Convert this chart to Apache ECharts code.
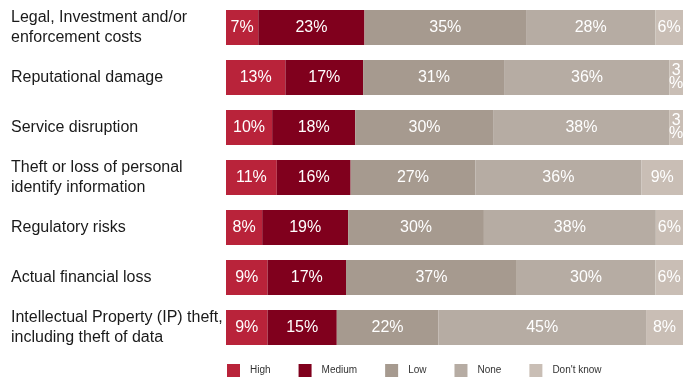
<!DOCTYPE html>
<html>
<head>
<meta charset="utf-8">
<script src="https://cdn.jsdelivr.net/npm/echarts@6/dist/echarts.min.js"></script>
<style>
  html, body { margin: 0; padding: 0; background: #fff; }
  #chart { width: 689px; height: 378px; }
</style>
</head>
<body>
<div id="chart"></div>
<script>
// Impact categories, top to bottom
const categories = [
  'Legal, Investment and/or\nenforcement costs',
  'Reputational damage',
  'Service disruption',
  'Theft or loss of personal\nidentify information',
  'Regulatory risks',
  'Actual financial loss',
  'Intellectual Property (IP) theft,\nincluding theft of data'
];

// Share of respondents (%) per rating, one value per category
const high      = [7, 13, 10, 11, 8, 9, 9];
const medium    = [23, 17, 18, 16, 19, 17, 15];
const low       = [35, 31, 30, 27, 30, 37, 22];
const none      = [28, 36, 38, 36, 38, 30, 45];
const dontKnow  = [6, 3, 3, 9, 6, 6, 8];

const seriesNames = ['High', 'Medium', 'Low', 'None', "Don't know"];
const seriesValues = [high, medium, low, none, dontKnow];
const colors = ['#B9233A', '#80001D', '#A69A8F', '#B6ACA3', '#C9BEB5'];

// Each bar spans the full width: segments are shares of the row total
const rowTotals = categories.map((_, i) =>
  seriesValues.reduce((s, arr) => s + arr[i], 0));

const series = seriesNames.map((name, k) => ({
  name,
  type: 'bar',
  stack: 'total',
  barWidth: 35,
  itemStyle: { color: colors[k] },
  emphasis: { disabled: true },
  label: {
    show: true,
    position: 'inside',
    color: '#fff',
    fontFamily: 'Liberation Sans, Arial, sans-serif',
    fontSize: 16,
    lineHeight: 13,
    formatter: p => {
      const v = seriesValues[k][p.dataIndex];
      return v < 5 ? v + '\n%' : v + '%';
    }
  },
  data: seriesValues[k].map((v, i) => v / rowTotals[i] * 100)
}));

const chart = echarts.init(document.getElementById('chart'), null, { renderer: 'canvas' });
chart.setOption({
  animation: false,
  color: colors,
  grid: { left: 226, right: 6, top: 2.5, bottom: 25.5, containLabel: false },
  xAxis: {
    type: 'value', min: 0, max: 100, show: false
  },
  yAxis: {
    type: 'category',
    inverse: true,
    data: categories,
    axisLine: { show: false },
    axisTick: { show: false },
    splitLine: { show: false },
    axisLabel: {
      align: 'left',
      margin: 215,
      color: '#1a1a1a',
      fontFamily: 'Liberation Sans, Arial, sans-serif',
      fontSize: 16,
      lineHeight: 20
    }
  },
  legend: {
    left: 227,
    top: 364,
    padding: 0,
    itemWidth: 13,
    itemHeight: 13,
    itemGap: 28,
    icon: 'rect',
    selectedMode: false,
    textStyle: {
      color: '#333',
      fontFamily: 'Liberation Sans, Arial, sans-serif',
      fontSize: 10,
      padding: [0, 0, 0, 5]
    },
    data: seriesNames
  },
  series
});
</script>
</body>
</html>
